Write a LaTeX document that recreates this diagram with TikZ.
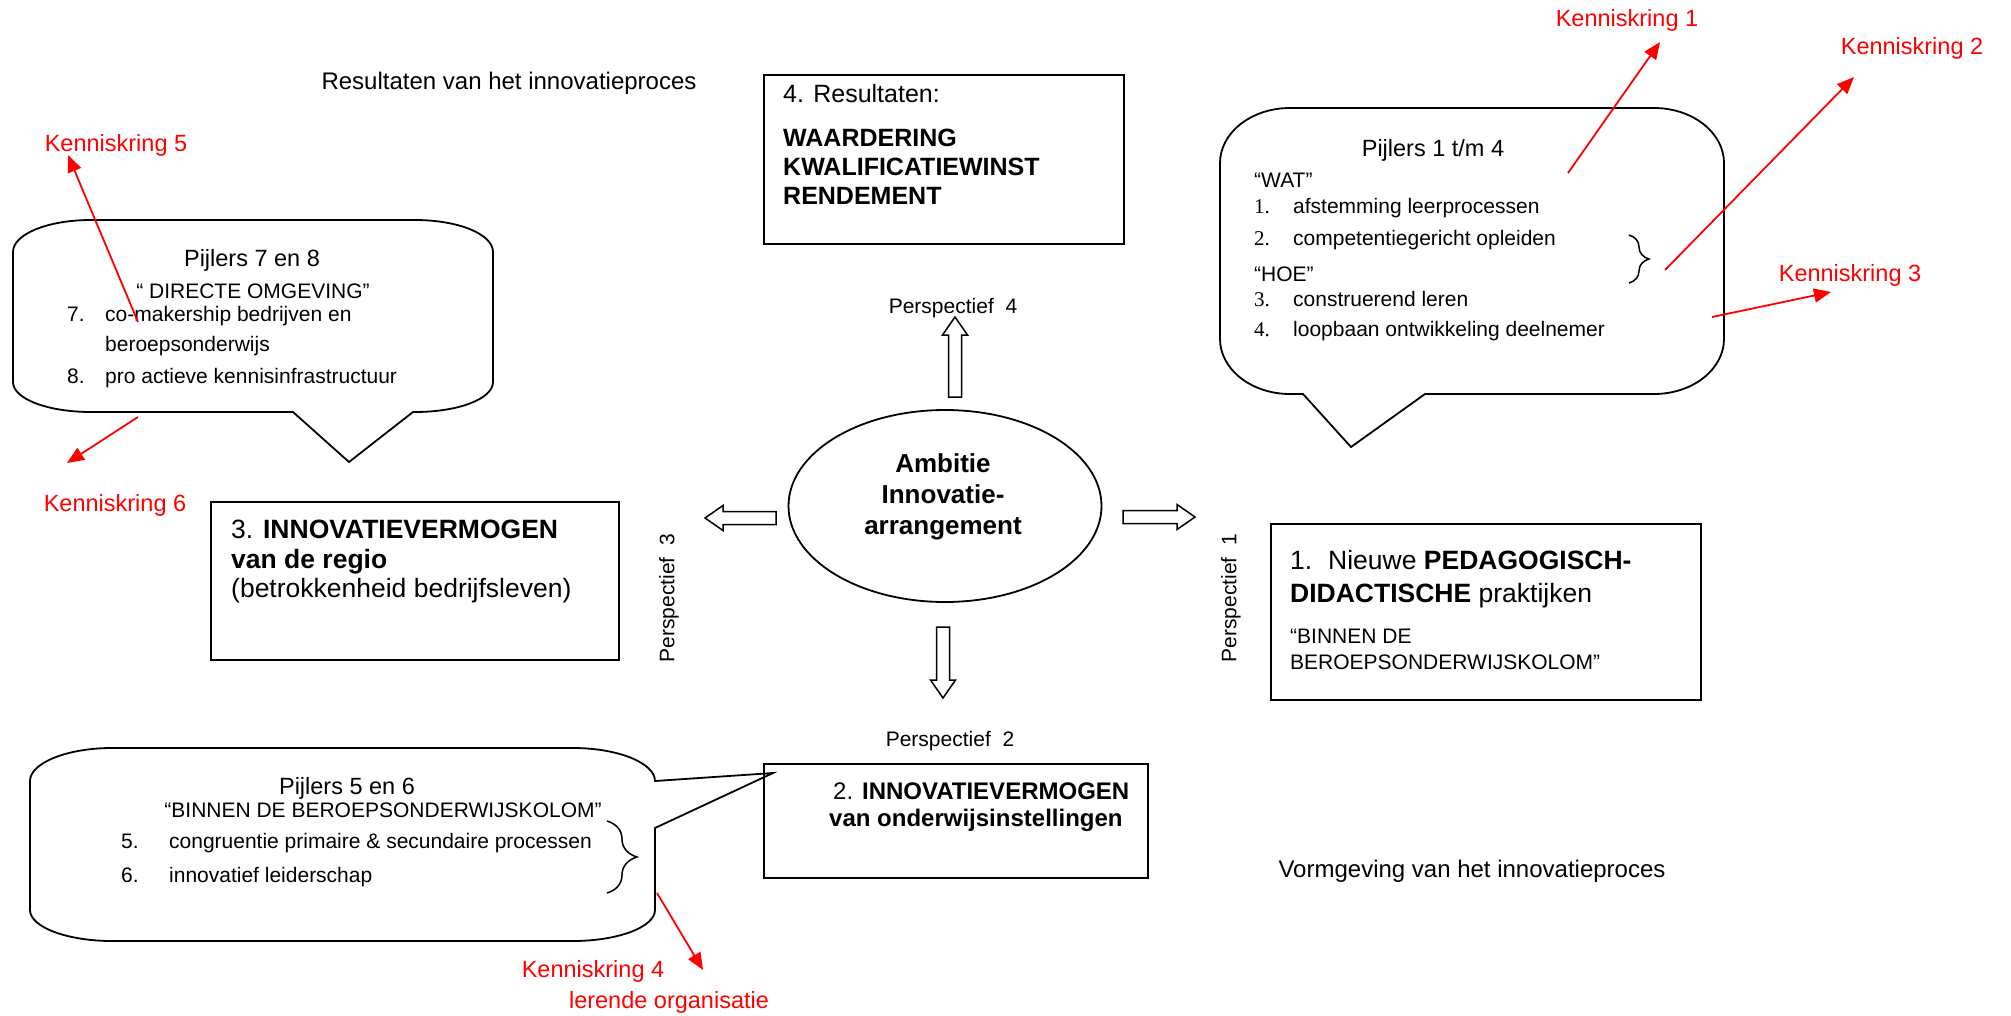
\documentclass[tikz,border=0pt]{standalone}
\usepackage{fontspec}
\setmainfont{Liberation Sans}
\newfontfamily\numfont{Liberation Serif}
\usetikzlibrary{shapes.geometric,arrows.meta,decorations.pathreplacing}

\newcommand\sizebody{\fontsize{21}{25}\selectfont}
\newcommand\sizehead{\fontsize{23.5}{28}\selectfont}
\newcommand\sizebig{\fontsize{25}{30}\selectfont}

\begin{document}
\begin{tikzpicture}[x=1pt,y=-1pt,
  box/.style={draw,line width=1.8pt,inner sep=0pt,anchor=north west},
  bubble/.style={draw,line width=1.8pt,line join=miter},
  txt/.style={inner sep=0pt,anchor=base west},
  ctxt/.style={inner sep=0pt,anchor=base},
  kk/.style={ctxt,text=red,font=\sizehead},
  kkline/.style={red,line width=1.8pt,-{Triangle[length=17pt,width=14pt]}},
  brace/.style={decorate,line width=1.5pt},
  pics/hollowarrow/.style={code={
    \draw[line width=1.5pt] (0,-6.5) -- (#1-18,-6.5) -- (#1-18,-12.5) -- (#1,0)
      -- (#1-18,12.5) -- (#1-18,6.5) -- (0,6.5) -- cycle;}}]

  \fill[white] (0,0) rectangle (2011,1015);
  \useasboundingbox (0,0) rectangle (2011,1015);

  % kopjes
  \node[ctxt,font=\fontsize{24}{28}\selectfont] (resultaten) at (509,89) {Resultaten van het innovatieproces};
  \node[ctxt,font=\fontsize{24}{28}\selectfont] (vormgeving) at (1472,877) {Vormgeving van het innovatieproces};

  % midden
  \node[draw,ellipse,line width=1.8pt,minimum width=313pt,minimum height=192pt] (ambitie) at (945,506) {};
  \node[ctxt,font=\fontsize{26}{30}\selectfont\bfseries] (amb1) at (943,472) {Ambitie};
  \node[ctxt,font=\fontsize{26}{30}\selectfont\bfseries] (amb2) at (943,503) {Innovatie-};
  \node[ctxt,font=\fontsize{26}{30}\selectfont\bfseries] (amb3) at (943,534) {arrangement};

  \pic at (1123,517) {hollowarrow=72};
  \pic[rotate=180] at (776,518) {hollowarrow=71};
  \pic[rotate=-90] at (943,627) {hollowarrow=71};
  \pic[rotate=90] at (955,397) {hollowarrow=80};

  \node[ctxt,font=\sizebody] (pers4) at (953,313) {Perspectief~~4};
  \node[ctxt,font=\sizebody] (pers2) at (950,746) {Perspectief~~2};
  \node[inner sep=0pt,rotate=90,font=\sizebody] (pers3) at (669,598) {Perspectief~~3};
  \node[inner sep=0pt,rotate=90,font=\sizebody] (pers1) at (1231,598) {Perspectief~~1};

  % 4. resultaten
  \node[box,minimum width=360pt,minimum height=169pt] (res) at (763,74) {};
  \node[txt,font=\sizebig] (res1) at (783,102) {4. Resultaten:};
  \node[txt,font=\sizebig\bfseries] (res2) at (783,146) {WAARDERING};
  \node[txt,font=\sizebig\bfseries] (res3) at (783,175) {KWALIFICATIEWINST};
  \node[txt,font=\sizebig\bfseries] (res4) at (783,204) {RENDEMENT};

  % 3. regio
  \node[box,minimum width=408pt,minimum height=158pt] (regio) at (210,501) {};
  \node[txt,font=\fontsize{26.5}{31}\selectfont] (regio1) at (231,538) {3. \textbf{INNOVATIEVERMOGEN}};
  \node[txt,font=\fontsize{26.5}{31}\selectfont\bfseries] (regio2) at (231,568) {van de regio};
  \node[txt,font=\fontsize{26.5}{31}\selectfont] (regio3) at (231,597) {(betrokkenheid bedrijfsleven)};

  % 1. pedagogisch-didactisch
  \node[box,minimum width=430pt,minimum height=176pt] (pedag) at (1270,523) {};
  \node[txt,font=\fontsize{26.5}{31}\selectfont] (pedag1) at (1290,569) {\makebox[38pt][l]{1.}Nieuwe \textbf{PEDAGOGISCH-}};
  \node[txt,font=\fontsize{26.5}{31}\selectfont] (pedag2) at (1290,602) {\textbf{DIDACTISCHE} praktijken};
  \node[txt,font=\sizebody] (pedag3) at (1290,643) {``BINNEN DE};
  \node[txt,font=\sizebody] (pedag4) at (1290,669) {BEROEPSONDERWIJSKOLOM''};

  % 2. onderwijsinstellingen
  \node[box,minimum width=384pt,minimum height=114pt] (onderw) at (763,763) {};
  \node[txt,font=\fontsize{24}{28}\selectfont] (onderw1) at (833,799) {2. \textbf{INNOVATIEVERMOGEN}};
  \node[txt,font=\fontsize{24}{28}\selectfont\bfseries] (onderw2) at (829,826) {van onderwijsinstellingen};

  % ballon pijlers 7 en 8
  \draw[bubble] (91,220) -- (415,220) .. controls (458,220) and (493,234) .. (493,252)
    -- (493,382) .. controls (493,399) and (458,412) .. (415,412)
    -- (413,412) -- (349,462) -- (293,412)
    -- (91,412) .. controls (48,412) and (13,399) .. (13,382)
    -- (13,252) .. controls (13,234) and (48,220) .. (91,220) -- cycle;
  \node[ctxt,font=\sizehead] (p78) at (252,266) {Pijlers 7 en 8};
  \node[ctxt,font=\sizebody] (omgeving) at (253,298) {`` DIRECTE OMGEVING''};
  \node[txt,font=\sizebody] (p7a) at (67,321) {\makebox[38pt][l]{7.}co-makership bedrijven en};
  \node[txt,font=\sizebody] (p7b) at (105,351) {beroepsonderwijs};
  \node[txt,font=\sizebody] (p8) at (67,383) {\makebox[38pt][l]{8.}pro actieve kennisinfrastructuur};

  % ballon pijlers 1 t/m 4
  \draw[bubble] (1290,108) -- (1654,108) .. controls (1693,108) and (1724,133) .. (1724,163)
    -- (1724,339) .. controls (1724,369) and (1693,394) .. (1654,394)
    -- (1425,394) -- (1351,447) -- (1303,394)
    -- (1290,394) .. controls (1251,394) and (1220,369) .. (1220,339)
    -- (1220,163) .. controls (1220,133) and (1251,108) .. (1290,108) -- cycle;
  \node[ctxt,font=\sizehead] (p14) at (1433,156) {Pijlers 1 t/m 4};
  \node[txt,font=\sizebody] (wat) at (1254,187) {``WAT''};
  \node[txt,font=\sizebody] (p1) at (1254,213) {\makebox[39pt][l]{\numfont 1.}afstemming leerprocessen};
  \node[txt,font=\sizebody] (p2) at (1254,245) {\makebox[39pt][l]{\numfont 2.}competentiegericht opleiden};
  \node[txt,font=\sizebody] (hoe) at (1254,281) {``HOE''};
  \node[txt,font=\sizebody] (p3) at (1254,306) {\makebox[39pt][l]{\numfont 3.}construerend leren};
  \node[txt,font=\sizebody] (p4) at (1254,336) {\makebox[39pt][l]{\numfont 4.}loopbaan ontwikkeling deelnemer};
  \draw[brace,decoration={brace,amplitude=20pt}] (1629,235) -- (1629,283);

  % ballon pijlers 5 en 6
  \draw[bubble] (112,748) -- (573,748) .. controls (618,748) and (655,763) .. (655,781)
    -- (773,773) -- (655,828)
    -- (655,910) .. controls (655,927) and (618,941) .. (573,941)
    -- (112,941) .. controls (67,941) and (30,927) .. (30,910)
    -- (30,781) .. controls (30,763) and (67,748) .. (112,748) -- cycle;
  \node[ctxt,font=\sizehead] (p56) at (347,794) {Pijlers 5 en 6};
  \node[ctxt,font=\sizebody] (binnen) at (383,817) {``BINNEN DE BEROEPSONDERWIJSKOLOM''};
  \node[txt,font=\sizebody] (p5) at (121,848) {\makebox[48pt][l]{5.}congruentie primaire \& secundaire processen};
  \node[txt,font=\sizebody] (p6) at (121,882) {\makebox[48pt][l]{6.}innovatief leiderschap};
  \draw[brace,decoration={brace,amplitude=30pt}] (607,821) -- (607,893);

  % kenniskringen
  \node[kk] (kk1) at (1627,26) {Kenniskring 1};
  \node[kk] (kk2) at (1912,54) {Kenniskring 2};
  \node[kk] (kk3) at (1850,281) {Kenniskring 3};
  \node[kk] (kk4) at (593,977) {Kenniskring 4};
  \node[kk] (kk4b) at (669,1008) {lerende organisatie};
  \node[kk] (kk5) at (116,151) {Kenniskring 5};
  \node[kk] (kk6) at (115,511) {Kenniskring 6};

  \coordinate (k1s) at (1568,173); \coordinate (k1e) at (1660,42);
  \coordinate (k2s) at (1665,270); \coordinate (k2e) at (1854,77);
  \coordinate (k3s) at (1712,317); \coordinate (k3e) at (1831,292);
  \coordinate (k4s) at (657,893);  \coordinate (k4e) at (703,970);
  \coordinate (k5s) at (138,322);  \coordinate (k5e) at (68,155);
  \coordinate (k6s) at (138,417);  \coordinate (k6e) at (67,463);
  \foreach \k in {1,...,6}
    \draw[kkline] (k\k s) -- (k\k e);
\end{tikzpicture}
\end{document}
